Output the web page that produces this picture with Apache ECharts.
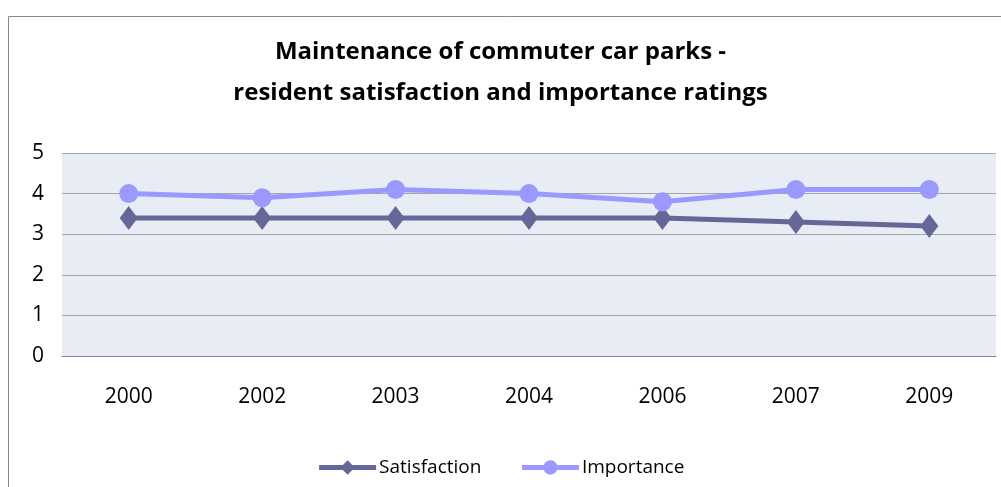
<!DOCTYPE html>
<html>
<head>
<meta charset="utf-8">
<script src="https://cdn.jsdelivr.net/npm/echarts@6/dist/echarts.min.js"></script>
<style>
  html, body { margin: 0; padding: 0; background: #fff; }
  #main { width: 1001px; height: 487px; }
</style>
</head>
<body>
<div id="main"></div>
<script>
// survey years and ratings
const years = ['2000', '2002', '2003', '2004', '2006', '2007', '2009'];
const satisfaction = [3.4, 3.4, 3.4, 3.4, 3.4, 3.3, 3.2];
const importance = [4.0, 3.9, 4.1, 4.0, 3.8, 4.1, 4.1];

const chart = echarts.init(document.getElementById('main'));

const font = '"Open Sans", sans-serif';

const option = {
  backgroundColor: '#fff',
  animation: false,
  title: {
    text: 'Maintenance of commuter car parks -\nresident satisfaction and importance ratings',
    left: 'center',
    top: 27,
    textStyle: {
      fontFamily: font,
      fontSize: 24,
      fontWeight: 'bold',
      color: '#000',
      lineHeight: 41
    }
  },
  legend: {
    bottom: 5,
    left: 'center',
    itemWidth: 57,
    itemHeight: 18,
    itemGap: 38,
    lineStyle: { width: 5 },
    textStyle: { fontFamily: font, fontSize: 19, color: '#000', padding: [0, 0, 0, -2] },
    data: ['Satisfaction', 'Importance']
  },
  grid: {
    left: 62,
    right: 5,
    top: 153,
    bottom: 131,
    show: true,
    backgroundColor: '#e8ecf4',
    borderWidth: 0
  },
  xAxis: {
    type: 'category',
    data: years,
    boundaryGap: true,
    axisLine: { show: true, lineStyle: { color: '#888', width: 1 } },
    axisTick: { show: false },
    axisLabel: { fontFamily: font, fontSize: 21, color: '#000', margin: 31 }
  },
  yAxis: {
    type: 'value',
    min: 0,
    max: 5,
    interval: 1,
    axisLine: { show: false },
    axisTick: { show: false },
    splitLine: { lineStyle: { color: '#a6a6a6', width: 1 } },
    axisLabel: { fontFamily: font, fontSize: 21, color: '#000', margin: 18 }
  },
  graphic: [{
    type: 'rect',
    shape: { x: 8.5, y: 16.5, width: 1100, height: 600 },
    style: { fill: null, stroke: '#888', lineWidth: 1 },
    silent: true,
    z: -1
  }],
  series: [
    {
      name: 'Satisfaction',
      type: 'line',
      data: satisfaction,
      symbol: 'diamond',
      symbolSize: [18, 24],
      itemStyle: { color: '#666699' },
      lineStyle: { color: '#666699', width: 5 }
    },
    {
      name: 'Importance',
      type: 'line',
      data: importance,
      symbol: 'circle',
      symbolSize: 19,
      itemStyle: { color: '#9999ff' },
      lineStyle: { color: '#9999ff', width: 5 }
    }
  ]
};

chart.setOption(option);
</script>
</body>
</html>
